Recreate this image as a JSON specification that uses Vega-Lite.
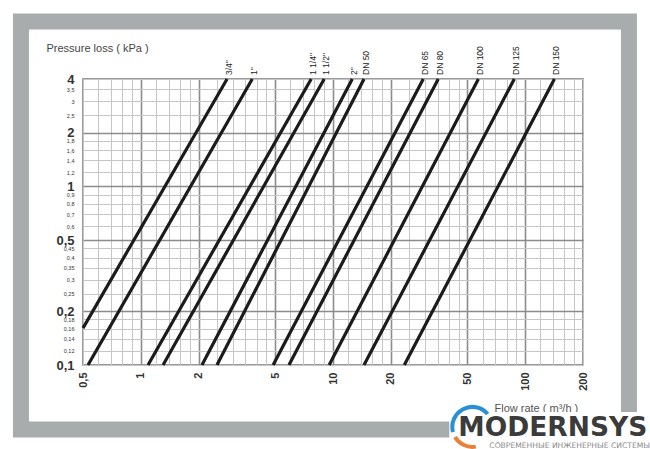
{
  "$schema": "https://vega.github.io/schema/vega-lite/v6.json",
  "width": 500,
  "height": 286,
  "autosize": {"type": "none"},
  "padding": {"left": 83, "top": 79, "right": 67, "bottom": 84},
  "background": "#ffffff",
  "config": {
    "font": "Liberation Sans",
    "view": {"stroke": "#7a7a7a", "strokeWidth": 1.5}
  },
  "datasets": {
    "curves": [
      {"size": "3/4\"", "q": 0.5, "dp": 0.161},
      {"size": "3/4\"", "q": 2.81, "dp": 4},
      {"size": "1\"", "q": 0.531, "dp": 0.1},
      {"size": "1\"", "q": 3.8, "dp": 4},
      {"size": "1 1/4\"", "q": 1.09, "dp": 0.1},
      {"size": "1 1/4\"", "q": 7.7, "dp": 4},
      {"size": "1 1/2\"", "q": 1.305, "dp": 0.1},
      {"size": "1 1/2\"", "q": 9.0, "dp": 4},
      {"size": "2\"", "q": 2.08, "dp": 0.1},
      {"size": "2\"", "q": 12.6, "dp": 4},
      {"size": "DN 50", "q": 2.49, "dp": 0.1},
      {"size": "DN 50", "q": 14.5, "dp": 4},
      {"size": "DN 65", "q": 4.88, "dp": 0.1},
      {"size": "DN 65", "q": 29.5, "dp": 4},
      {"size": "DN 80", "q": 5.9, "dp": 0.1},
      {"size": "DN 80", "q": 35.3, "dp": 4},
      {"size": "DN 100", "q": 9.55, "dp": 0.1},
      {"size": "DN 100", "q": 57.1, "dp": 4},
      {"size": "DN 125", "q": 14.5, "dp": 0.1},
      {"size": "DN 125", "q": 87.8, "dp": 4},
      {"size": "DN 150", "q": 23.5, "dp": 0.1},
      {"size": "DN 150", "q": 142, "dp": 4}
    ]
  },
  "layer": [
    {
      "description": "pressure-loss curves with the log grid",
      "data": {"name": "curves"},
      "mark": {"type": "line", "color": "#1b1b1b", "strokeWidth": 3.2, "strokeCap": "butt"},
      "encoding": {
        "x": {
          "field": "q", "type": "quantitative",
          "scale": {"type": "log", "domain": [0.5, 200], "nice": false},
          "axis": {
            "values": [0.5, 0.6, 0.7, 0.8, 0.9, 1, 1.2, 1.4, 1.6, 1.8, 2, 2.5, 3, 3.5, 4, 4.5, 5, 6, 7, 8, 9, 10, 12, 14, 16, 18, 20, 25, 30, 35, 40, 45, 50, 60, 70, 80, 90, 100, 120, 140, 160, 180, 200],
            "title": "Flow rate ( m³/h )",
            "titleFontSize": 11, "titleFontWeight": "normal", "titleColor": "#555555",
            "titleAngle": 0, "titleAlign": "left", "titleBaseline": "middle", "titleX": 411, "titleY": 43,
            "labelExpr": "(datum.value == 0.5 || datum.value == 1 || datum.value == 2 || datum.value == 5 || datum.value == 10 || datum.value == 20 || datum.value == 50 || datum.value == 100 || datum.value == 200) ? replace(format(datum.value, '~g'), '.', ',') : ''",
            "labelAngle": -90, "labelFontSize": 11, "labelFontWeight": "bold", "labelColor": "#333333", "labelPadding": 7,
            "labelOverlap": false, "labelFlush": false, "labelBound": false,
            "ticks": false, "domain": false,
            "gridColor": {"condition": {"test": "datum.value == 1 || datum.value == 2 || datum.value == 5 || datum.value == 10 || datum.value == 20 || datum.value == 50 || datum.value == 100", "value": "#8c8c8c"}, "value": "#c6c6c6"},
            "gridWidth": {"condition": {"test": "datum.value == 1 || datum.value == 2 || datum.value == 5 || datum.value == 10 || datum.value == 20 || datum.value == 50 || datum.value == 100", "value": 1.6}, "value": 1}
          }
        },
        "y": {
          "field": "dp", "type": "quantitative",
          "scale": {"type": "log", "domain": [0.1, 4], "nice": false},
          "axis": {
            "values": [0.1, 0.12, 0.14, 0.16, 0.18, 0.2, 0.25, 0.3, 0.35, 0.4, 0.45, 0.5, 0.6, 0.7, 0.8, 0.9, 1, 1.2, 1.4, 1.6, 1.8, 2, 2.5, 3, 3.5, 4],
            "title": "Pressure loss ( kPa )",
            "titleFontSize": 11, "titleFontWeight": "normal", "titleColor": "#444444",
            "titleAngle": 0, "titleAlign": "left", "titleBaseline": "middle", "titleX": -37, "titleY": -31,
            "labelExpr": "replace(format(datum.value, '~g'), '.', ',')",
            "labelFontSize": {"condition": {"test": "datum.value == 0.1 || datum.value == 0.2 || datum.value == 0.5 || datum.value == 1 || datum.value == 2 || datum.value == 4", "value": 13}, "value": 5.5},
            "labelFontWeight": {"condition": {"test": "datum.value == 0.1 || datum.value == 0.2 || datum.value == 0.5 || datum.value == 1 || datum.value == 2 || datum.value == 4", "value": "bold"}, "value": "normal"},
            "labelColor": "#333333", "labelPadding": 9,
            "labelOverlap": false, "labelFlush": false, "labelBound": false,
            "ticks": false, "domain": false,
            "gridColor": {"condition": {"test": "datum.value == 0.2 || datum.value == 0.5 || datum.value == 1 || datum.value == 2", "value": "#8c8c8c"}, "value": "#c6c6c6"},
            "gridWidth": {"condition": {"test": "datum.value == 0.2 || datum.value == 0.5 || datum.value == 1 || datum.value == 2", "value": 1.6}, "value": 1}
          }
        },
        "detail": {"field": "size"}
      }
    },
    {
      "description": "grey frame around the chart card",
      "data": {"values": [{}]},
      "mark": {"type": "rect", "fill": "transparent", "stroke": "#a9acac", "strokeWidth": 16},
      "encoding": {
        "x": {"datum": 0.2377, "type": "quantitative", "scale": {"type": "log", "domain": [0.5, 200], "nice": false}},
        "x2": {"datum": 346.8},
        "y": {"datum": 8.4, "type": "quantitative", "scale": {"type": "log", "domain": [0.1, 4], "nice": false}},
        "y2": {"datum": 0.0435}
      }
    },
    {
      "description": "pipe size labels above the top end of each curve",
      "data": {"name": "curves"},
      "transform": [{"filter": "datum.dp == 4"}],
      "mark": {"type": "text", "angle": 270, "align": "left", "baseline": "middle", "dx": 4, "dy": 2, "fontSize": 8.5, "color": "#222222"},
      "encoding": {
        "x": {"field": "q", "type": "quantitative", "scale": {"type": "log", "domain": [0.5, 200], "nice": false}},
        "y": {"field": "dp", "type": "quantitative", "scale": {"type": "log", "domain": [0.1, 4], "nice": false}},
        "text": {"field": "size"}
      }
    },
    {
      "description": "white plate behind the brand mark",
      "data": {"values": [{}]},
      "mark": {"type": "rect", "fill": "#ffffff"},
      "encoding": {
        "x": {"datum": 40.3, "type": "quantitative", "scale": {"type": "log", "domain": [0.5, 200], "nice": false}},
        "x2": {"datum": 506},
        "y": {"datum": 0.0545, "type": "quantitative", "scale": {"type": "log", "domain": [0.1, 4], "nice": false}},
        "y2": {"datum": 0.0313}
      }
    },
    {
      "description": "blue ring segment of the brand mark",
      "data": {"values": [{}]},
      "mark": {"type": "point", "shape": "M -0.966 0.259 A 1 1 0 0 1 0.766 -0.643", "filled": false, "size": 1600, "color": "#2a8fd4", "strokeWidth": 4, "opacity": 1},
      "encoding": {
        "x": {"datum": 53.1, "type": "quantitative", "scale": {"type": "log", "domain": [0.5, 200], "nice": false}},
        "y": {"datum": 0.045, "type": "quantitative", "scale": {"type": "log", "domain": [0.1, 4], "nice": false}}
      }
    },
    {
      "description": "orange ring segment of the brand mark",
      "data": {"values": [{}]},
      "mark": {"type": "point", "shape": "M 0.174 0.985 A 1 1 0 0 1 -0.866 0.5", "filled": false, "size": 1600, "color": "#e8813a", "strokeWidth": 4, "opacity": 1},
      "encoding": {
        "x": {"datum": 53.1, "type": "quantitative", "scale": {"type": "log", "domain": [0.5, 200], "nice": false}},
        "y": {"datum": 0.045, "type": "quantitative", "scale": {"type": "log", "domain": [0.1, 4], "nice": false}}
      }
    },
    {
      "description": "brand name",
      "data": {"values": [{"t": "MODERNSYS"}]},
      "mark": {"type": "text", "align": "left", "baseline": "alphabetic", "font": "DejaVu Sans", "fontWeight": "bold", "fontSize": 26.5, "color": "#3b3b3b"},
      "encoding": {
        "x": {"datum": 44.9, "type": "quantitative", "scale": {"type": "log", "domain": [0.5, 200], "nice": false}},
        "y": {"datum": 0.0402, "type": "quantitative", "scale": {"type": "log", "domain": [0.1, 4], "nice": false}},
        "text": {"field": "t"}
      }
    },
    {
      "description": "brand tagline",
      "data": {"values": [{"t": "СОВРЕМЕННЫЕ ИНЖЕНЕРНЫЕ СИСТЕМЫ"}]},
      "mark": {"type": "text", "align": "left", "baseline": "alphabetic", "font": "DejaVu Sans", "fontSize": 7.6, "color": "#8a8a8a"},
      "encoding": {
        "x": {"datum": 65.1, "type": "quantitative", "scale": {"type": "log", "domain": [0.5, 200], "nice": false}},
        "y": {"datum": 0.0341, "type": "quantitative", "scale": {"type": "log", "domain": [0.1, 4], "nice": false}},
        "text": {"field": "t"}
      }
    }
  ]
}
